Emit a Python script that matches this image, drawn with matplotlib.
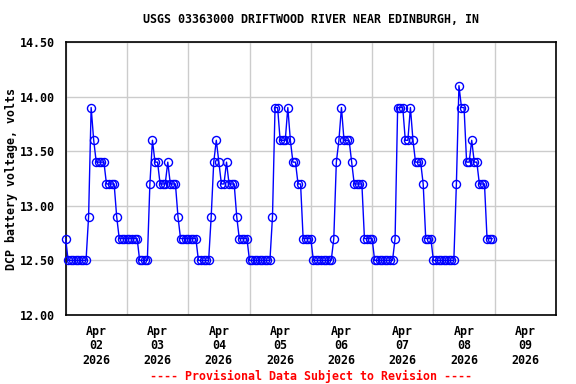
import matplotlib
matplotlib.use('Agg')
import matplotlib.pyplot as plt
import matplotlib.dates as mdates
import pandas as pd

# Hourly DCP battery voltage readings, one list per day (00:00 .. 23:00)
apr02 = [12.7, 12.5, 12.5, 12.5, 12.5, 12.5, 12.5, 12.5, 12.5, 12.9, 13.9, 13.6,
         13.4, 13.4, 13.4, 13.4, 13.2, 13.2, 13.2, 13.2, 12.9, 12.7, 12.7, 12.7]
apr03 = [12.7, 12.7, 12.7, 12.7, 12.7, 12.5, 12.5, 12.5, 12.5, 13.2, 13.6, 13.4,
         13.4, 13.2, 13.2, 13.2, 13.4, 13.2, 13.2, 13.2, 12.9, 12.7, 12.7, 12.7]
apr04 = [12.7, 12.7, 12.7, 12.7, 12.5, 12.5, 12.5, 12.5, 12.5, 12.9, 13.4, 13.6,
         13.4, 13.2, 13.2, 13.4, 13.2, 13.2, 13.2, 12.9, 12.7, 12.7, 12.7, 12.7]
apr05 = [12.5, 12.5, 12.5, 12.5, 12.5, 12.5, 12.5, 12.5, 12.5, 12.9, 13.9, 13.9,
         13.6, 13.6, 13.6, 13.9, 13.6, 13.4, 13.4, 13.2, 13.2, 12.7, 12.7, 12.7]
apr06 = [12.7, 12.5, 12.5, 12.5, 12.5, 12.5, 12.5, 12.5, 12.5, 12.7, 13.4, 13.6,
         13.9, 13.6, 13.6, 13.6, 13.4, 13.2, 13.2, 13.2, 13.2, 12.7, 12.7, 12.7]
apr07 = [12.7, 12.5, 12.5, 12.5, 12.5, 12.5, 12.5, 12.5, 12.5, 12.7, 13.9, 13.9,
         13.9, 13.6, 13.6, 13.9, 13.6, 13.4, 13.4, 13.4, 13.2, 12.7, 12.7, 12.7]
apr08 = [12.5, 12.5, 12.5, 12.5, 12.5, 12.5, 12.5, 12.5, 12.5, 13.2, 14.1, 13.9,
         13.9, 13.4, 13.4, 13.6, 13.4, 13.4, 13.2, 13.2, 13.2, 12.7, 12.7, 12.7]

start_time = '2026-04-02 00:00'
x_start = '2026-04-02 00:00'
x_end = '2026-04-10 00:00'
y_ticks = [12.0, 12.5, 13.0, 13.5, 14.0, 14.5]
title = 'USGS 03363000 DRIFTWOOD RIVER NEAR EDINBURGH, IN'
ylabel = 'DCP battery voltage, volts'
footer = '---- Provisional Data Subject to Revision ----'

voltage = apr02 + apr03 + apr04 + apr05 + apr06 + apr07 + apr08
times = pd.date_range(start_time, periods=len(voltage), freq='h')

plt.rcParams['font.family'] = ['DejaVu Sans Mono']
plt.rcParams['font.weight'] = 'bold'
plt.rcParams['font.size'] = 8.4

fig = plt.figure(figsize=(5.76, 3.84), dpi=100)
W, H = 576, 384
left, right, top, bottom = 65.6, 556, 42, 315
ax = fig.add_axes([left / W, 1 - bottom / H, (right - left) / W, (bottom - top) / H])

ax.plot(times, voltage, color='#0000ff', lw=1.0, marker='o', ms=5.8,
        mfc='none', mec='#0000ff', mew=1.0, zorder=3, clip_on=False)

ax.set_xlim(pd.Timestamp(x_start), pd.Timestamp(x_end))
ax.set_ylim(y_ticks[0], y_ticks[-1])
ax.set_yticks(y_ticks)
ax.set_yticklabels([f'{v:.2f}' for v in y_ticks])

ax.xaxis.set_major_locator(mdates.DayLocator())
ax.xaxis.set_major_formatter(plt.NullFormatter())
ax.xaxis.set_minor_locator(mdates.HourLocator(byhour=[12]))
ax.xaxis.set_minor_formatter(mdates.DateFormatter('%b\n%d\n%Y'))
for lab in ax.xaxis.get_minorticklabels():
    lab.set_linespacing(1.15)

ax.tick_params(axis='x', which='both', length=0, pad=7)
ax.tick_params(axis='y', which='both', length=0, pad=8)

ax.grid(True, which='major', color='#cccccc', lw=1.0)
ax.set_axisbelow(True)
for s in ax.spines.values():
    s.set_color('black')
    s.set_linewidth(1.2)

cx = (left + right) / 2 / W
fig.text(cx, 1 - 19.5 / H, title, ha='center', va='center')
fig.text(12 / W, 1 - 178.5 / H, ylabel, rotation=90, ha='center', va='center')
fig.text(cx, 1 - 376 / H, footer, ha='center', va='center', color='#ff0000')

fig.savefig('out.png', dpi=100)
